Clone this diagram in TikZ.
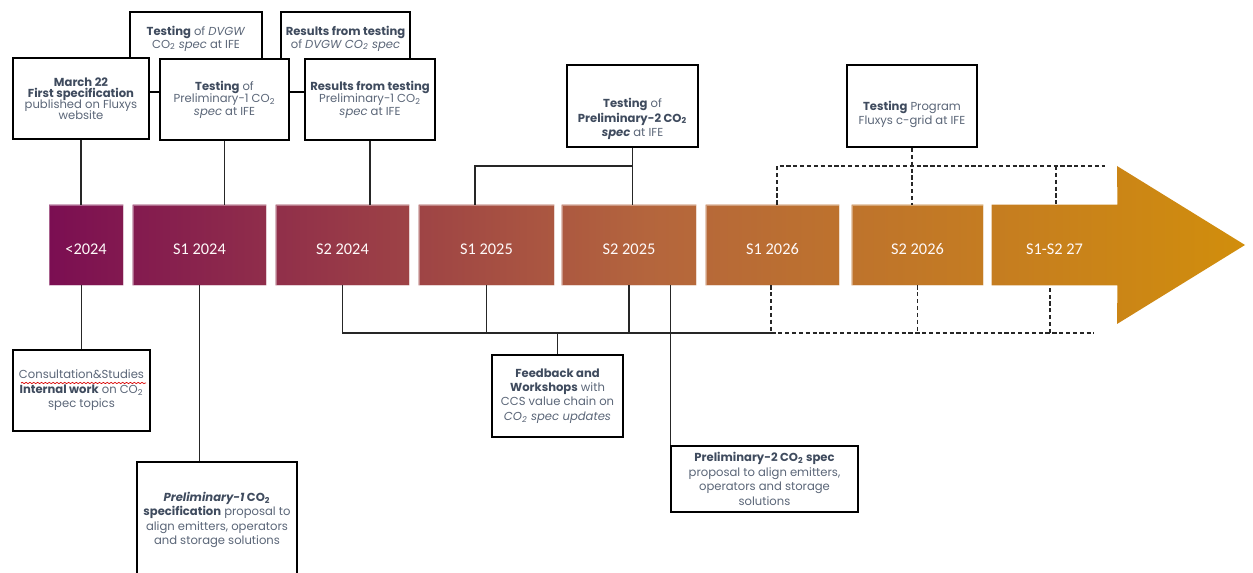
\documentclass[tikz,border=0pt]{standalone}
\usepackage{fontspec}
\newfontfamily\callfont{Poppins}
\newfontfamily\blockfont{Carlito}
\usepackage{tikz}
\usetikzlibrary{backgrounds, decorations.pathmorphing}

\definecolor{boxtext}{HTML}{5B6678}
\definecolor{boxbold}{HTML}{3F4B5E}
\definecolor{tlpurple}{HTML}{7B0E52}
\definecolor{tlrust}{HTML}{B4653D}
\definecolor{tlgold}{HTML}{D18E0C}
\newcommand{\cotwo}{CO\textsubscript{2}}
\newcommand{\hl}[1]{\textbf{\color{boxbold}#1}}
\newcommand{\callsize}[1]{\callfont\fontsize{6.6}{#1}\selectfont\setlength{\lineskiplimit}{-5pt}}

\begin{document}
\begin{tikzpicture}[x=0.02cm, y=-0.02cm,
    callout/.style={rectangle, draw, line width=1.1pt, fill=white, align=center,
      font=\callsize{8.2pt}, text=boxtext, inner sep=1pt},
    lead/.style={font=\callsize{#1}},
    period/.style={rectangle, draw=white, draw opacity=0.35, line width=0.5pt,
      minimum height=1.6cm, text height=10.5pt, text=white!92!pink,
      font=\blockfont\fontsize{9.3}{11}\selectfont},
    conn/.style={draw=black!85, line width=0.6pt},
    dconn/.style={conn, dash pattern=on 2.4pt off 1.5pt}
  ]
  \useasboundingbox (0,0) rectangle (1253,573);

  % periods
  \node[period, minimum width=1.48cm] (b24) at (86,245) {<2024};
  \node[period, minimum width=2.66cm] (s124) at (199.5,245) {S1 2024};
  \node[period, minimum width=2.66cm] (s224) at (342.5,245) {S2 2024};
  \node[period, minimum width=2.70cm] (s125) at (486.5,245) {S1 2025};
  \node[period, minimum width=2.68cm] (s225) at (629,245) {S2 2025};
  \node[period, minimum width=2.66cm] (s126) at (772.5,245) {S1 2026};
  \node[period, minimum width=2.62cm] (s226) at (917.5,245) {S2 2026};
  \node[period, draw=none, minimum width=2.5cm] (s27) at (1054.5,245) {S1-S2 27};

  \begin{scope}[on background layer]
    \clip (b24.north west) rectangle (b24.south east)
      (s124.north west) rectangle (s124.south east)
      (s224.north west) rectangle (s224.south east)
      (s125.north west) rectangle (s125.south east)
      (s225.north west) rectangle (s225.south east)
      (s126.north west) rectangle (s126.south east)
      (s226.north west) rectangle (s226.south east)
      (s27.north west) -- (s27.north east) -- (1117,166) -- (1245,245)
      -- (1117,324) -- (s27.south east) -- (s27.south west) -- cycle;
    \shade[left color=tlpurple, right color=tlgold, middle color=tlrust]
      (49,160) rectangle (1245,330);
  \end{scope}

  % boxes above
  \node[callout, lead=7.4pt, minimum width=2.64cm, minimum height=1.6cm, text depth=17pt]
    (dvgw) at (196,52) {\hl{Testing} of \textit{DVGW}\\ \cotwo{} \textit{spec} at IFE};
  \node[callout, lead=7.4pt, minimum width=2.58cm, minimum height=1.6cm, text depth=17pt]
    (rdvgw) at (345.5,52) {\hl{Results from testing}\\ of \textit{DVGW \cotwo{} spec}};
  \node[callout, lead=6.3pt, minimum width=2.72cm, minimum height=1.62cm]
    (march) at (81,98.5) {\hl{March 22}\\ \hl{First specification}\\ published on Fluxys\\ website};
  \node[callout, lead=7.1pt, minimum width=2.58cm, minimum height=1.62cm]
    (tp1) at (224.5,99.5) {\hl{Testing} of\\ Preliminary-1 \cotwo{}\\ \textit{spec} at IFE};
  \node[callout, lead=7.1pt, minimum width=2.6cm, minimum height=1.62cm]
    (rp1) at (370,99.5) {\hl{Results from testing}\\ Preliminary-1 \cotwo{}\\ \textit{spec} at IFE};
  \node[callout, minimum width=2.62cm, minimum height=1.64cm, text height=36.5pt]
    (tp2) at (632.5,106) {\hl{Testing} of\\ \hl{Preliminary-2 \cotwo{}}\\ \hl{\textit{spec}} at IFE};
  \node[callout, minimum width=2.6cm, minimum height=1.64cm, text height=23pt]
    (prog) at (912,106) {\hl{Testing} Program\\ Fluxys c-grid at IFE};

  % boxes below
  \node[callout, minimum width=2.74cm, minimum height=1.62cm]
    (cons) at (81.5,390.5) {Consultation\&Studies\\ \hl{Internal work} on \cotwo{}\\ spec topics};
  \node[callout, minimum width=3.2cm, minimum height=2.32cm]
    (prel1) at (217,520) {\hl{\textit{Preliminary-1} \cotwo{}}\\ \hl{specification} proposal to\\ align emitters, operators\\ and storage solutions};
  \node[callout, minimum width=2.62cm, minimum height=1.64cm]
    (fb) at (557.5,396) {\hl{Feedback and}\\ \hl{Workshops} with\\ CCS value chain on\\ \textit{\cotwo{} spec updates}};
  \node[callout, minimum width=3.74cm, minimum height=1.32cm]
    (prel2) at (764.5,479) {\hl{Preliminary-2 \cotwo{} spec}\\ proposal to align emitters,\\ operators and storage\\ solutions};
  \draw[red!85!black, line width=0.4pt, decorate,
    decoration={snake, amplitude=0.35pt, segment length=2.2pt}] (21,383) -- (146,383);

  % links above the timeline
  \draw[conn] (march.south) -- (march.south |- b24.north);
  \draw[conn] (tp1.south) -- (tp1.south |- s124.north);
  \draw[conn] (rp1.south) -- (rp1.south |- s224.north);
  \coordinate (s125j) at (475,166);
  \draw[conn] (tp2.south) -- (tp2.south |- s225.north);
  \draw[conn] (tp2.south |- s125j) -- (s125j) -- (s125j |- s125.north);
  \coordinate (progl) at (777,166);
  \coordinate (progr) at (1105,166);
  \coordinate (s27j) at (1056,166);
  \draw[dconn] (prog.south) -- (prog.south |- s226.north);
  \draw[dconn] (progl |- s126.north) -- (progl) -- (progr);
  \draw[dconn] (s27j) -- (s27j |- s27.north);

  % links below the timeline
  \draw[conn] (b24.south -| cons.north) -- (cons.north);
  \draw[conn] (s124.south) -- (s124.south |- prel1.north);
  \coordinate (fbl) at (343,333);
  \coordinate (fbr) at (771,333);
  \coordinate (futr) at (1094,333);
  \coordinate (s27k) at (1050,333);
  \draw[conn] (s224.south) |- (fbr);
  \draw[conn] (s125.south) -- (s125.south |- fbl);
  \draw[conn] (s225.south) -- (s225.south |- fbl);
  \draw[conn] (fb.north) -- (fb.north |- fbl);
  \draw[conn] (prel2.north west |- s225.south) -- (prel2.north west);
  \draw[dconn] (fbr |- s126.south) -- (fbr) -- (futr);
  \draw[dconn] (s226.south) -- (s226.south |- futr);
  \draw[dconn] (s27k) -- (s27k |- s27.south);
\end{tikzpicture}
\end{document}
